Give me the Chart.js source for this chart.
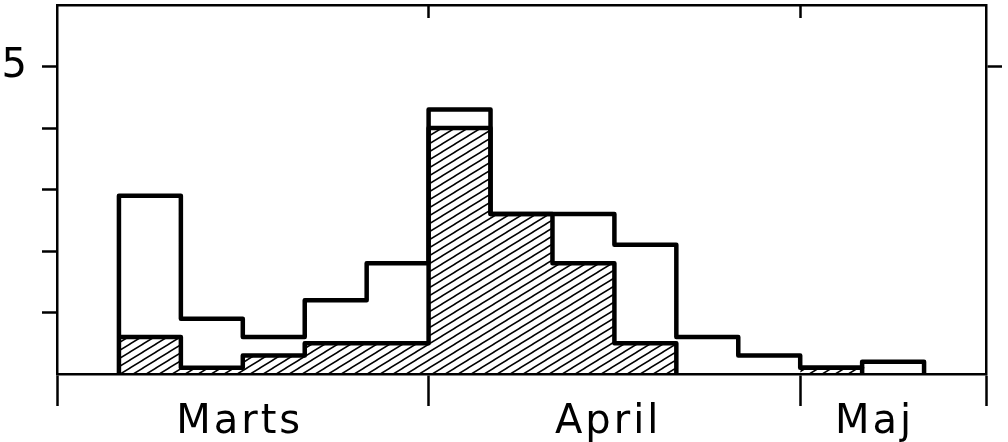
<!DOCTYPE html>
<html>
<head>
<meta charset="utf-8">
<script src="https://cdn.jsdelivr.net/npm/chart.js@4.4.1/dist/chart.umd.min.js"></script>
<style>
  html, body { margin: 0; padding: 0; background: #fff; }
  #wrap { width: 1008px; height: 442px; position: relative; }
</style>
</head>
<body>
<div id="wrap"><canvas id="c"></canvas></div>
<script>
// ---- data ----
const binStart = 1;                 // first bin starts at slot 1
const totalValues   = [2.9, 0.9, 0.6, 1.2, 1.8, 4.3, 2.6, 2.6, 2.1, 0.6, 0.3, 0.1, 0.2];
const hatchedValues = [0.6, 0.1, 0.3, 0.5, 0.5, 4.0, 2.6, 1.8, 0.5, 0.0, 0.0, 0.1, 0.0];
const monthNames    = ['Marts', 'April', 'Maj'];
const monthLabelPos = [2.95, 8.9, 13.2];
const monthBounds   = [0, 6, 12, 15];
const yTickValues   = [1, 2, 3, 4, 5];
const yLabelled     = [5];
const xMin = 0, xMax = 15, yMin = 0, yMax = 6;

function stepPoints(vals) {
  const pts = [{x: binStart, y: 0}];
  vals.forEach((v, i) => pts.push({x: binStart + i, y: v}));
  pts.push({x: binStart + vals.length, y: vals[vals.length - 1]});
  pts.push({x: binStart + vals.length, y: 0});
  return pts;
}

// diagonal hatch pattern (shallow "/" lines)
function makeHatch() {
  const W = 13, H = 8;
  const pc = document.createElement('canvas');
  pc.width = W; pc.height = H;
  const g = pc.getContext('2d');
  g.strokeStyle = '#000';
  g.lineWidth = 1.5;
  g.beginPath();
  for (let k = -1; k <= 1; k++) {
    g.moveTo(0 + k * W, H); g.lineTo(W + k * W, 0);
    g.moveTo(0, H + k * H); g.lineTo(W, k * H);
  }
  g.stroke();
  return g.createPattern(pc, 'repeat');
}
const hatch = makeHatch();

const FONT = {family: 'DejaVu Sans', size: 40};
const borderW = 2.5;

const xTickItems = [...monthBounds, ...monthLabelPos].sort((a, b) => a - b);

function fixSize(ax, w, h) {
  if (w !== null) ax.width = w;
  if (h !== null) ax.height = h;
  ax.paddingTop = 0; ax.paddingBottom = 0; ax.paddingLeft = 0; ax.paddingRight = 0;
}

const hideBase = ctx => (ctx.p0.parsed.y === 0) ? 'rgba(0,0,0,0)' : '#000';

const spacing = {
  id: 'spacing',
  beforeDraw(chart) { chart.ctx.letterSpacing = '3px'; }
};

new Chart(document.getElementById('c'), {
  type: 'line',
  plugins: [spacing],
  data: {
    datasets: [
      {
        label: 'total',
        data: stepPoints(totalValues),
        stepped: true,
        borderColor: '#000',
        borderWidth: 4.5,
        borderJoinStyle: 'round',
        fill: false,
        pointRadius: 0
      },
      {
        label: 'hatched',
        data: stepPoints(hatchedValues),
        stepped: true,
        borderColor: '#000',
        borderWidth: 4.5,
        borderJoinStyle: 'round',
        backgroundColor: hatch,
        fill: 'origin',
        pointRadius: 0,
        segment: {borderColor: hideBase}
      }
    ]
  },
  options: {
    responsive: true,
    maintainAspectRatio: false,
    animation: false,
    layout: {padding: 0},
    plugins: {legend: {display: false}, tooltip: {enabled: false}},
    scales: {
      x: {
        type: 'linear', position: 'bottom', min: xMin, max: xMax,
        afterBuildTicks: ax => { ax.ticks = xTickItems.map(v => ({value: v})); },
        afterFit: ax => fixSize(ax, null, 68),
        border: {display: true, color: '#000', width: borderW},
        grid: {
          drawOnChartArea: false, drawTicks: true, tickLength: 32, tickWidth: borderW,
          tickColor: ctx => monthBounds.includes(ctx.tick.value) ? '#000' : 'rgba(0,0,0,0)'
        },
        ticks: {
          autoSkip: false, maxRotation: 0, padding: -7, color: '#000', font: FONT,
          callback: v => { const i = monthLabelPos.indexOf(v); return i >= 0 ? monthNames[i] : ''; }
        }
      },
      xTop: {
        type: 'linear', position: 'top', min: xMin, max: xMax,
        afterBuildTicks: ax => { ax.ticks = [{value: monthBounds[1]}, {value: monthBounds[2]}]; },
        afterFit: ax => fixSize(ax, null, 5),
        border: {display: true, color: '#000', width: borderW},
        grid: {drawOnChartArea: false, drawTicks: true, tickLength: -13, tickWidth: borderW, tickColor: '#000'},
        ticks: {display: false}
      },
      y: {
        type: 'linear', position: 'left', min: yMin, max: yMax,
        afterBuildTicks: ax => { ax.ticks = yTickValues.map(v => ({value: v})); },
        afterFit: ax => fixSize(ax, 57, null),
        border: {display: true, color: '#000', width: borderW},
        grid: {drawOnChartArea: false, drawTicks: true, tickLength: 15, tickWidth: borderW, tickColor: '#000'},
        ticks: {
          autoSkip: false, padding: 12, color: '#000', font: FONT,
          callback: v => yLabelled.includes(v) ? String(v) : ''
        }
      },
      yRight: {
        type: 'linear', position: 'right', min: yMin, max: yMax,
        afterBuildTicks: ax => { ax.ticks = yLabelled.map(v => ({value: v})); },
        afterFit: ax => fixSize(ax, 22, null),
        border: {display: true, color: '#000', width: borderW},
        grid: {drawOnChartArea: false, drawTicks: true, tickLength: 16, tickWidth: borderW, tickColor: '#000'},
        ticks: {display: false}
      }
    }
  }
});
</script>
</body>
</html>
